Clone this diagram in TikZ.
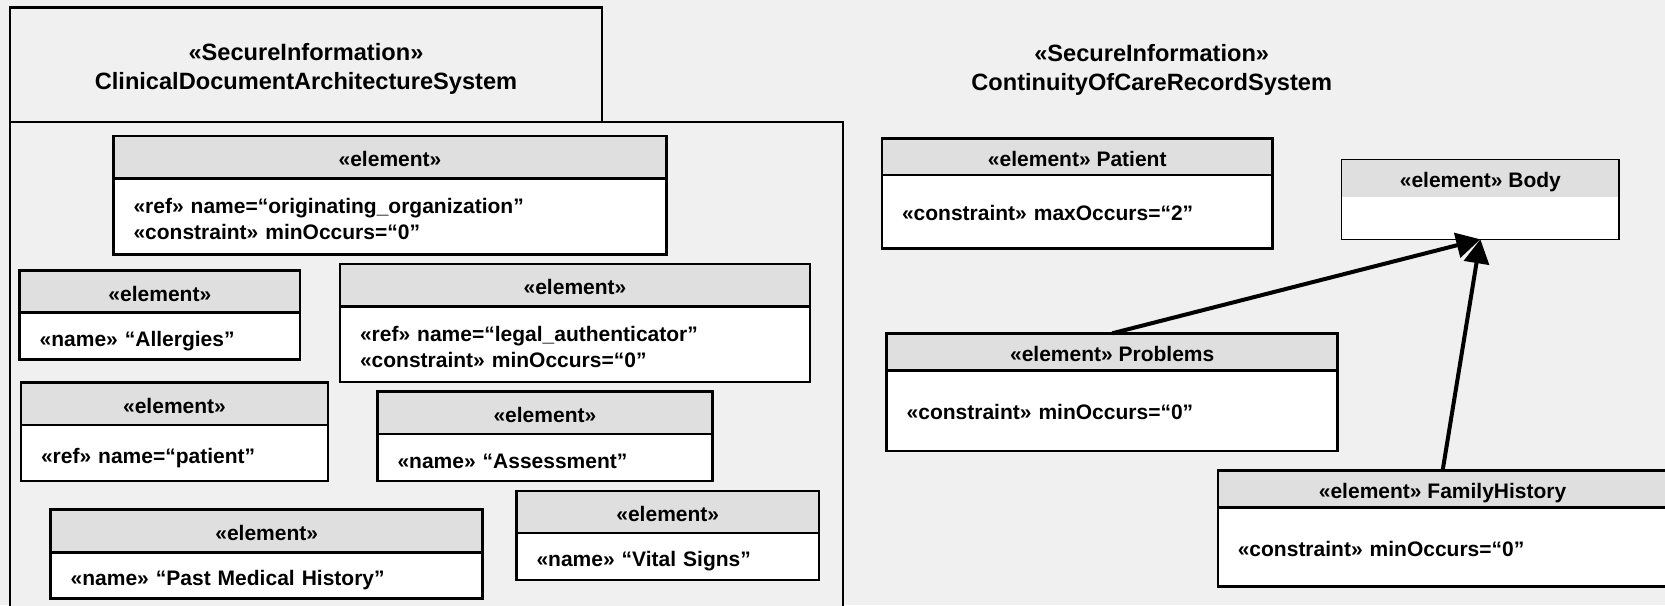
\documentclass[tikz,border=0pt]{standalone}
\usepackage{fontspec}
\setmainfont{Liberation Sans}
\usetikzlibrary{arrows.meta}
\definecolor{canvas}{HTML}{F0F0F0}
\definecolor{headfill}{HTML}{DFDFDF}

% element box: [body style], name, x, y (top left), width, header height, body height, header, body
\newcommand\elembox[9][]{%
  \pgfmathsetmacro\bodytw{#5-40}%
  \node[hdr, minimum width=#5pt, minimum height=#6pt] (#2h) at (#3,#4) {#8};
  \node[bdy, text width=\bodytw pt, minimum height=#7pt, #1] (#2) at (#2h.south west) {#9};
}
% strut that lowers the first line of a two-line compartment
\newcommand\firstline{\rule{0pt}{20.5pt}}

\begin{document}
\begin{tikzpicture}[x=1pt,y=-1pt,
  every node/.style={font=\fontsize{21}{26}\selectfont\bfseries, outer sep=0pt, inner sep=0pt},
  frame/.style={draw=black, line width=2.5pt, fill=canvas},
  hdr/.style={draw=black, line width=2.5pt, fill=headfill, anchor=north west, align=center,
    text height=19pt, text depth=0pt},
  bdy/.style={draw=black, line width=2.5pt, fill=white, anchor=north west, align=left, inner xsep=20pt},
  cdaline/.style={text height=21pt, text depth=0pt},
  ccrline/.style={text height=18pt, text depth=0pt},
  pkgtitle/.style={font=\fontsize{23.6}{28.5}\selectfont\bfseries, align=center},
  gen/.style={line width=4pt, -{Triangle[length=24pt,width=25pt]}}
]
\useasboundingbox (0,0) rectangle (1665,605);
\fill[canvas] (0,0) rectangle (1665,605);
\begin{scope}
\clip (0,0) rectangle (1665,605);

% package: ClinicalDocumentArchitectureSystem
\draw[frame] (10,122) rectangle (843,640);
\draw[frame] (10,7.3) rectangle (602,122);
\node[pkgtitle] (cdatitle) at (306,69) {«SecureInformation»\\ClinicalDocumentArchitectureSystem};

\elembox{org}{113.5}{136}{553}{42.5}{76}{«element»}{\firstline«ref» name=“originating\_organization”\\«constraint» minOccurs=“0”}
\elembox[cdaline]{allergy}{19.7}{270.7}{280.3}{42}{46.8}{«element»}{«name» “Allergies”}
\elembox{legal}{340}{264}{470}{42.5}{75.5}{«element»}{\firstline«ref» name=“legal\_authenticator”\\«constraint» minOccurs=“0”}
\elembox[cdaline]{pref}{21}{382.7}{307}{42.3}{56}{«element»}{«ref» name=“patient”}
\elembox[cdaline]{assess}{377.5}{391.7}{334.8}{42.3}{47}{«element»}{«name» “Assessment”}
\elembox[cdaline]{vital}{516.5}{490.8}{302.5}{42}{47.3}{«element»}{«name» “Vital Signs”}
\elembox[cdaline]{past}{50.7}{509.3}{432}{43}{46.2}{«element»}{«name» “Past Medical History”}

% package: ContinuityOfCareRecordSystem
\node[pkgtitle] (ccrtitle) at (1151.7,70) {«SecureInformation»\\ContinuityOfCareRecordSystem};

\elembox[ccrline]{patient}{882}{138.5}{390.5}{36.5}{73.3}{«element» Patient}{«constraint» maxOccurs=“2”}
\elembox[ccrline]{problems}{886.7}{333.3}{451}{37.4}{80.3}{«element» Problems}{«constraint» minOccurs=“0”}
\elembox[ccrline]{famhist}{1217.8}{470.7}{449.6}{36.6}{79.4}{«element» FamilyHistory}{«constraint» minOccurs=“0”}

% Body element: thin outline, no compartment line
\node[anchor=north west, fill=headfill, minimum width=277.3pt, minimum height=37.4pt,
  text height=19pt, text depth=0pt] (bodyh) at (1341.7,159.3) {«element» Body};
\node[anchor=north west, fill=white, minimum width=277.3pt, minimum height=42.6pt] (body) at (bodyh.south west) {};
\draw[line width=1.5pt] (bodyh.north west) rectangle (body.south east);

% generalizations
\draw[gen] (problemsh.north) -- (body.south);
\draw[gen] (famhisth.north) -- (body.south);
\end{scope}
\end{tikzpicture}
\end{document}
